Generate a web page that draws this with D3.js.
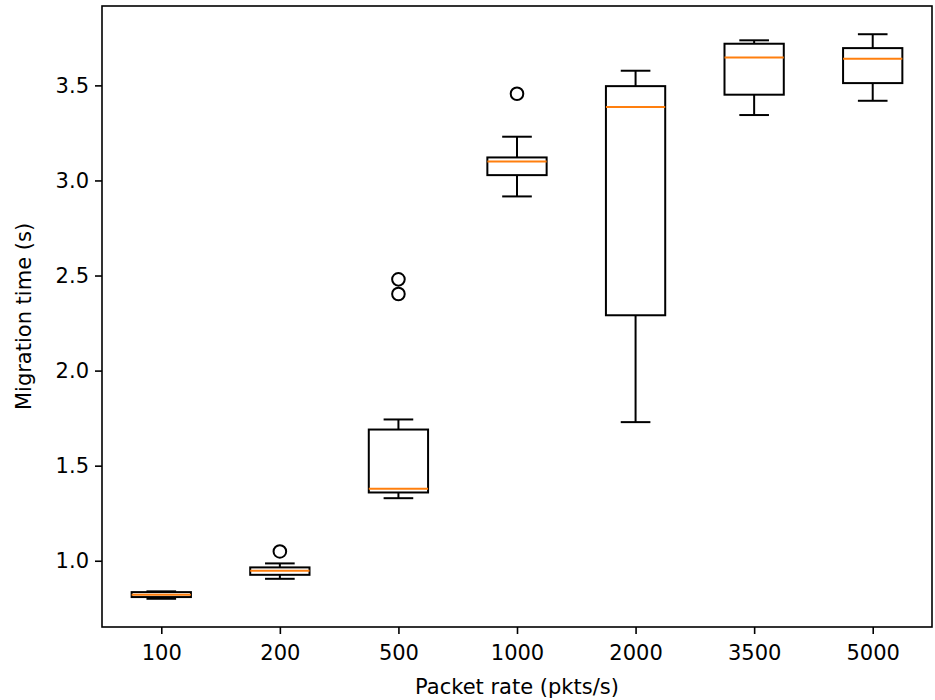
<!DOCTYPE html>
<html>
<head>
<meta charset="utf-8">
<script src="https://cdn.jsdelivr.net/npm/d3@7/dist/d3.min.js"></script>
<style>
  body { margin: 0; background: #fff; }
  text { font-family: "DejaVu Sans", sans-serif; fill: #000; }
</style>
</head>
<body>
<script>
// packet rates (categories)
var rates = ["100", "200", "500", "1000", "2000", "3500", "5000"];

// box stats
var whiskerLo = [0.800, 0.905, 1.329, 2.916, 1.729, 3.344, 3.419];
var q1        = [0.809, 0.926, 1.359, 3.028, 2.291, 3.451, 3.512];
var medians   = [0.821, 0.947, 1.378, 3.100, 3.386, 3.647, 3.640];
var q3        = [0.835, 0.965, 1.690, 3.121, 3.496, 3.719, 3.696];
var whiskerHi = [0.839, 0.986, 1.743, 3.230, 3.577, 3.737, 3.769];
var outliers  = [[], [1.049], [2.480, 2.403], [3.456], [], [], []];

var yTicks = [1.0, 1.5, 2.0, 2.5, 3.0, 3.5];

var W = 935, H = 700;
var margin = {top: 6, right: 3, bottom: 73, left: 102};

var svg = d3.select("body").append("svg")
    .attr("width", W)
    .attr("height", H);

var plotW = W - margin.left - margin.right,
    plotH = H - margin.top - margin.bottom;

var g = svg.append("g")
    .attr("transform", "translate(" + margin.left + "," + margin.top + ")");

// positions 1..7 like matplotlib, xlim 0.5..7.5
var x = d3.scaleLinear().domain([0.5, rates.length + 0.5]).range([0, plotW]);

var lo = d3.min(whiskerLo), hi = d3.max(whiskerHi);
var pad = (hi - lo) * 0.05;
var y = d3.scaleLinear().domain([lo - pad, hi + pad]).range([plotH, 0]);

var boxW = x(1.5) - x(1);   // 0.5 units
var capW = boxW / 2;

var boxes = rates.map(function (r, i) {
    return {pos: i + 1, lo: whiskerLo[i], q1: q1[i], med: medians[i],
            q3: q3[i], hi: whiskerHi[i], fl: outliers[i]};
});

var bx = g.selectAll(".box")
    .data(boxes)
    .enter()
    .append("g")
    .attr("class", "box");

// whiskers
bx.append("line")
    .attr("x1", function (d) { return x(d.pos); })
    .attr("x2", function (d) { return x(d.pos); })
    .attr("y1", function (d) { return y(d.lo); })
    .attr("y2", function (d) { return y(d.q1); })
    .attr("stroke", "#000").attr("stroke-width", 2);
bx.append("line")
    .attr("x1", function (d) { return x(d.pos); })
    .attr("x2", function (d) { return x(d.pos); })
    .attr("y1", function (d) { return y(d.q3); })
    .attr("y2", function (d) { return y(d.hi); })
    .attr("stroke", "#000").attr("stroke-width", 2);

// caps
["lo", "hi"].forEach(function (k) {
    bx.append("line")
        .attr("x1", function (d) { return x(d.pos) - capW / 2; })
        .attr("x2", function (d) { return x(d.pos) + capW / 2; })
        .attr("y1", function (d) { return y(d[k]); })
        .attr("y2", function (d) { return y(d[k]); })
        .attr("stroke", "#000").attr("stroke-width", 2);
});

// box
bx.append("rect")
    .attr("x", function (d) { return x(d.pos) - boxW / 2; })
    .attr("y", function (d) { return y(d.q3); })
    .attr("width", boxW)
    .attr("height", function (d) { return y(d.q1) - y(d.q3); })
    .attr("fill", "none")
    .attr("stroke", "#000").attr("stroke-width", 2);

// median
bx.append("line")
    .attr("x1", function (d) { return x(d.pos) - boxW / 2; })
    .attr("x2", function (d) { return x(d.pos) + boxW / 2; })
    .attr("y1", function (d) { return y(d.med); })
    .attr("y2", function (d) { return y(d.med); })
    .attr("stroke", "#ff7f0e").attr("stroke-width", 2);

// fliers
bx.selectAll("circle")
    .data(function (d) { return d.fl.map(function (v) { return {pos: d.pos, v: v}; }); })
    .enter()
    .append("circle")
    .attr("cx", function (d) { return x(d.pos); })
    .attr("cy", function (d) { return y(d.v); })
    .attr("r", 6.3)
    .attr("fill", "none")
    .attr("stroke", "#000").attr("stroke-width", 2);

// axes
var xAxis = d3.axisBottom(x)
    .tickValues(d3.range(1, rates.length + 1))
    .tickFormat(function (d) { return rates[d - 1]; })
    .tickSize(7).tickPadding(6);
var yAxis = d3.axisLeft(y)
    .tickValues(yTicks)
    .tickFormat(d3.format(".1f"))
    .tickSize(7).tickPadding(6);

var gx = g.append("g").attr("transform", "translate(0," + plotH + ")").call(xAxis);
var gy = g.append("g").call(yAxis);
[gx, gy].forEach(function (a) {
    a.select(".domain").remove();
    a.selectAll("line").attr("stroke", "#000").attr("stroke-width", 1.6);
    a.selectAll("text").style("font-size", "21px").attr("fill", "#000");
});
gx.selectAll("text").attr("dy", "0.95em");

// frame
g.append("rect")
    .attr("width", plotW).attr("height", plotH)
    .attr("fill", "none").attr("stroke", "#000").attr("stroke-width", 1.6);

svg.append("text")
    .attr("x", margin.left + plotW / 2)
    .attr("y", 694)
    .attr("text-anchor", "middle")
    .style("font-size", "21px")
    .text("Packet rate (pkts/s)");

svg.append("text")
    .attr("transform", "translate(31," + (margin.top + plotH / 2) + ") rotate(-90)")
    .attr("text-anchor", "middle")
    .style("font-size", "21px")
    .text("Migration time (s)");
</script>
</body>
</html>
